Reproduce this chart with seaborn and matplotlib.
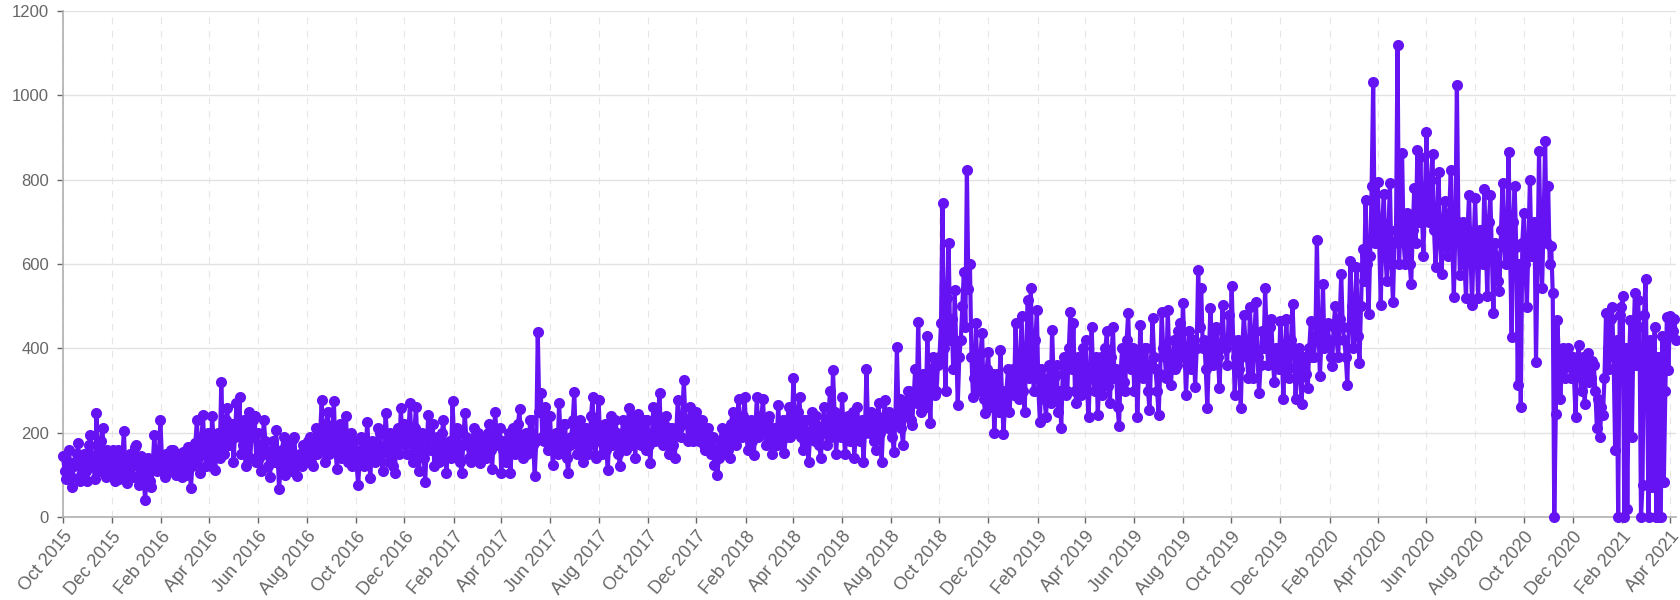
import pandas as pd
import matplotlib
matplotlib.use("Agg")
import matplotlib.pyplot as plt
import matplotlib.dates as mdates
import seaborn as sns

# values, about every 2 days, one row per two months
vals_2015 = [
    145, 110, 90, 130, 160, 95, 70, 120, 130, 150, 175, 85, 100, 140, 150, 110,
    85, 170, 195, 130, 120, 90, 246, 150, 110, 180, 210, 120, 95, 160, 150, 100,   # Oct-Nov
    130, 160, 85, 120, 160, 90, 100, 140, 205, 110, 80, 130, 150, 100, 95, 165,
    170, 120, 75, 145, 120, 90, 40, 110, 140, 85, 70, 125, 195, 140, 110, 150,     # Dec-Jan
]
vals_2016 = [
    229, 140, 120, 95, 150, 130, 110, 160, 160, 120, 100, 150, 140, 110, 95, 155,
    130, 100, 165, 140, 68, 120, 150, 175, 230, 140, 105, 190, 242, 160, 120, 200,
    160, 120, 240, 180, 112, 160, 200, 140, 319, 200, 150, 230, 258, 170, 180, 220,
    130, 190, 270, 210, 284, 150, 170, 230, 120, 180, 250, 140, 190, 230, 240, 130,
    200, 140, 110, 170, 230, 180, 150, 120, 95, 160, 180, 130, 206, 150, 66, 120,
    160, 190, 100, 140, 175, 110, 120, 185, 190, 130, 98, 145, 150, 120, 170, 130,
    140, 180, 190, 130, 120, 170, 210, 150, 160, 200, 277, 180, 130, 220, 250, 150,
    180, 210, 276, 160, 115, 190, 220, 140, 150, 200, 240, 130, 170, 200, 120, 180,
    160, 120, 77, 140, 190, 150, 120, 170, 226, 140, 92, 180, 170, 130, 140, 210,
    200, 150, 110, 160, 246, 190, 130, 200, 180, 120, 105, 170, 210, 150, 258, 190,
    220, 170, 150, 200, 270, 180, 130, 210, 262, 150, 110, 190, 200, 140, 84, 160,
    242, 180, 160, 220, 120, 170, 190, 130, 140, 200, 230, 150, 104, 170, 180, 140,
]
vals_2017 = [
    275, 180, 150, 210, 200, 130, 104, 170, 246, 190, 170, 140, 130, 180, 210, 150,
    160, 200, 127, 170, 190, 150, 140, 200, 220, 160, 115, 180, 250, 190, 170, 210,
    104, 160, 180, 130, 150, 200, 104, 170, 210, 150, 170, 220, 255, 160, 140, 190,
    200, 150, 160, 230, 230, 170, 98, 180, 438, 250, 293, 190, 180, 260, 240, 160,
    240, 170, 123, 180, 200, 150, 270, 190, 160, 220, 220, 140, 105, 170, 190, 230,
    297, 180, 150, 210, 230, 160, 130, 200, 210, 150, 170, 240, 285, 190, 140, 220,
    277, 180, 150, 210, 220, 160, 112, 190, 240, 170, 180, 230, 200, 150, 120, 180,
    230, 200, 160, 220, 258, 170, 190, 240, 140, 200, 245, 180, 170, 220, 230, 160,
    230, 170, 127, 200, 260, 180, 200, 240, 293, 190, 170, 220, 240, 180, 150, 210,
    210, 170, 139, 200, 277, 210, 190, 240, 325, 230, 220, 180, 260, 200, 180, 240,
    250, 190, 180, 220, 230, 170, 160, 200, 210, 170, 150, 190, 123, 160, 100, 140,
    180, 210, 150, 190, 200, 160, 140, 220, 250, 180, 170, 230, 280, 200, 190, 240,
]
vals_2018 = [
    285, 200, 160, 220, 230, 180, 147, 210, 285, 190, 200, 240, 281, 200, 170, 230,
    240, 180, 150, 210, 210, 170, 265, 200, 180, 230, 151, 190, 230, 260, 190, 220,
    329, 220, 200, 250, 285, 190, 160, 230, 230, 180, 131, 200, 250, 210, 180, 240,
    215, 170, 139, 200, 260, 220, 170, 230, 300, 190, 349, 250, 150, 200, 240, 190,
    285, 200, 150, 230, 240, 180, 190, 250, 140, 200, 260, 190, 180, 230, 131, 200,
    350, 220, 200, 250, 230, 180, 160, 240, 270, 200, 131, 220, 277, 230, 210, 250,
    240, 190, 155, 230, 402, 250, 280, 210, 171, 240, 260, 300, 300, 230, 218, 280,
    350, 270, 463, 300, 250, 340, 330, 260, 429, 310, 222, 350, 380, 290, 300, 360,
    380, 460, 744, 400, 300, 520, 649, 420, 470, 350, 538, 400, 266, 380, 420, 500,
    582, 450, 823, 540, 601, 380, 285, 330, 459, 300, 320, 390, 437, 280, 246, 350,
    392, 300, 260, 340, 199, 280, 340, 250, 396, 300, 197, 260, 300, 350, 250, 310,
    350, 290, 461, 320, 280, 380, 477, 300, 250, 400, 515, 330, 542, 380, 300, 420,
]
vals_2019 = [
    490, 300, 226, 350, 330, 280, 238, 320, 360, 270, 443, 330, 280, 360, 250, 300,
    210, 340, 380, 290, 300, 400, 487, 350, 459, 300, 270, 380, 330, 290, 400, 320,
    420, 300, 238, 350, 451, 330, 300, 380, 242, 320, 380, 290, 330, 400, 440, 310,
    270, 380, 451, 330, 350, 260, 216, 340, 400, 320, 300, 420, 483, 360, 350, 400,
    300, 380, 238, 340, 455, 360, 330, 400, 400, 300, 254, 360, 471, 380, 350, 300,
    242, 340, 487, 400, 380, 330, 491, 380, 313, 360, 420, 350, 360, 440, 460, 380,
    507, 400, 289, 380, 440, 350, 380, 420, 309, 400, 586, 450, 542, 400, 420, 350,
    258, 380, 495, 420, 360, 440, 450, 380, 305, 400, 503, 420, 400, 360, 480, 420,
    548, 420, 290, 380, 420, 350, 259, 400, 480, 420, 380, 330, 497, 400, 330, 440,
    509, 380, 294, 360, 440, 400, 544, 420, 360, 450, 470, 380, 320, 400, 400, 350,
    465, 380, 279, 400, 469, 350, 330, 420, 506, 400, 280, 360, 400, 330, 267, 380,
    380, 340, 306, 400, 465, 380, 380, 420, 657, 450, 334, 420, 552, 400, 420, 460,
]
vals_2020 = [
    420, 380, 358, 450, 500, 420, 380, 470, 576, 450, 420, 380, 314, 450, 608, 500,
    400, 480, 592, 430, 366, 500, 636, 560, 751, 600, 481, 620, 786, 1032, 650, 700,
    794, 650, 503, 700, 767, 620, 560, 680, 792, 600, 509, 650, 680, 1120, 600, 700,
    863, 650, 600, 720, 700, 600, 552, 680, 780, 650, 870, 700, 854, 720, 620, 760,
    913, 720, 700, 800, 862, 680, 592, 700, 818, 650, 576, 700, 750, 640, 620, 720,
    824, 650, 521, 680, 1025, 700, 574, 660, 700, 600, 519, 680, 764, 620, 503, 650,
    756, 620, 519, 680, 680, 600, 778, 650, 523, 700, 764, 620, 483, 650, 620, 560,
    535, 680, 792, 650, 600, 700, 866, 620, 428, 700, 784, 640, 313, 600, 261, 650,
    721, 600, 499, 650, 800, 620, 620, 700, 368, 600, 867, 650, 543, 700, 891, 650,
    784, 600, 642, 531, 0, 245, 467, 380, 281, 360, 400, 330, 356, 400, 380, 330,
    380, 330, 238, 360, 408, 340, 300, 380, 269, 350, 388, 320, 330, 370, 360, 300,
    210, 280, 190, 260, 242, 330, 483, 400, 350, 470, 499, 380, 158, 420, 0, 480,
]
vals_2021 = [
    499, 523, 0, 400, 20, 350, 467, 190, 420, 531, 360, 515, 450, 0, 75, 480,
    565, 300, 0, 420, 70, 293, 450, 0, 380, 0, 0, 430, 83, 300, 475, 348,          # Feb-Mar
    477, 436, 440, 470, 420,                                                        # Apr
]

first_day = "2015-10-01"
last_day = "2021-04-09"
y_ticks = [0, 200, 400, 600, 800, 1000, 1200]

values = vals_2015 + vals_2016 + vals_2017 + vals_2018 + vals_2019 + vals_2020 + vals_2021
dates = pd.date_range(first_day, last_day, periods=len(values))
df = pd.DataFrame({"date": dates, "count": values})

purple = "#6513f2"

sns.set_theme(style="white")
plt.rcParams["font.family"] = ["Liberation Sans", "DejaVu Sans"]

fig = plt.figure(figsize=(16.81, 6.0), dpi=100)
ax = fig.add_axes([63 / 1681, 83 / 600, (1676 - 63) / 1681, (517 - 11) / 600])

sns.lineplot(data=df, x="date", y="count", ax=ax, color=purple, linewidth=3.0,
             marker="o", markersize=8, markeredgewidth=0, zorder=3)
for ln in ax.lines:
    ln.set_clip_on(False)
    ln.set_solid_joinstyle("round")

ax.set_xlim(pd.Timestamp(first_day), pd.Timestamp(last_day))
ax.set_ylim(0, 1200)
ax.set_yticks(y_ticks)
ax.xaxis.set_major_locator(mdates.MonthLocator(bymonth=[2, 4, 6, 8, 10, 12]))
ax.xaxis.set_major_formatter(mdates.DateFormatter("%b %Y"))

ax.grid(axis="y", color="#e2e2e2", linewidth=1, linestyle="-")
ax.grid(axis="x", color="#e6e6e6", linewidth=0.8, linestyle=(0, (6, 6)))
ax.set_axisbelow(True)

for side in ["top", "right"]:
    ax.spines[side].set_visible(False)
for side in ["left", "bottom"]:
    ax.spines[side].set_color("#b0b0b0")
    ax.spines[side].set_linewidth(1.2)

ax.tick_params(axis="both", colors="#666666", length=4,
               width=1, direction="out", bottom=True, left=True)
ax.tick_params(axis="y", pad=6, labelsize=12)
ax.tick_params(axis="x", pad=4, labelsize=13)
for lbl in ax.get_xticklabels():
    lbl.set_rotation(50)
    lbl.set_ha("right")
    lbl.set_va("top")
    lbl.set_rotation_mode("anchor")

ax.set_xlabel("")
ax.set_ylabel("")

fig.savefig("out.png", dpi=100)
